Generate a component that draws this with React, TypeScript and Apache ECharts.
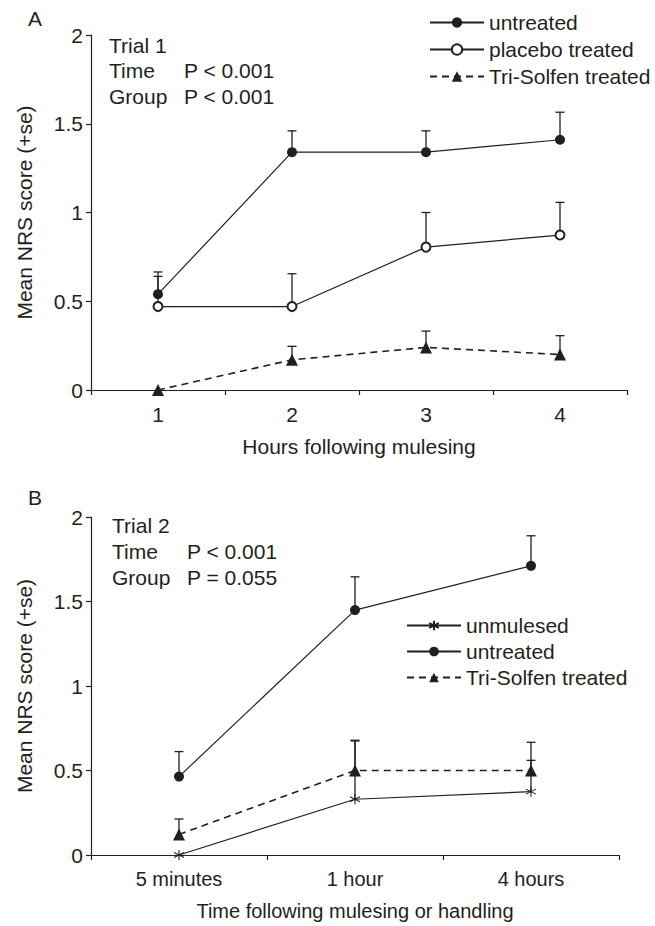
import React, { useEffect, useRef } from "react";
import * as echarts from "echarts";

// Panel A (Trial 1)
const hoursA = ["1", "2", "3", "4"];
const untreatedA = [0.54, 1.34, 1.34, 1.41];
const untreatedA_se = [0.125, 0.12, 0.12, 0.155];
const placeboA = [0.47, 0.47, 0.805, 0.873];
const placeboA_se = [0.17, 0.185, 0.195, 0.184];
const triA = [0, 0.17, 0.24, 0.2];
const triA_se = [0, 0.076, 0.092, 0.106];

// Panel B (Trial 2)
const timesB = ["5 minutes", "1 hour", "4 hours"];
const unmulesedB = [0, 0.33, 0.375];
const unmulesedB_se = [0, 0.345, 0.185];
const untreatedB = [0.464, 1.449, 1.711];
const untreatedB_se = [0.148, 0.197, 0.178];
const triB = [0.122, 0.5, 0.5];
const triB_se = [0.091, 0.179, 0.167];

const yTicks = [0, 0.5, 1, 1.5, 2];

const INK = "#231f20";
const FONT = "'Liberation Sans', Arial, Helvetica, sans-serif";
const ASTERISK = "path://M5 0 L5 10 M0.7 2.5 L9.3 7.5 M0.7 7.5 L9.3 2.5";

const errRender = (params: any, api: any) => {
  const x = api.value(0);
  const m = api.value(1);
  const se = api.value(2);
  if (!se) return { type: "group", children: [] };
  const p0 = api.coord([x, m]);
  const p1 = api.coord([x, m + se]);
  const st = { stroke: INK, lineWidth: 1.3 };
  return {
    type: "group",
    children: [
      { type: "line", shape: { x1: p0[0], y1: p0[1], x2: p1[0], y2: p1[1] }, style: st },
      { type: "line", shape: { x1: p1[0] - 4.5, y1: p1[1], x2: p1[0] + 4.5, y2: p1[1] }, style: st },
    ],
  };
};

const errSeries = (idx: number, mean: number[], se: number[]) => ({
  type: "custom",
  xAxisIndex: idx,
  yAxisIndex: idx,
  z: 1,
  renderItem: errRender,
  encode: { x: 0, y: 1 },
  data: mean.map((v, i) => [i, v, se[i]]),
  silent: true,
});

const lineSeries = (
  name: string,
  idx: number,
  data: number[],
  symbol: string,
  size: number,
  dashed: boolean
) => ({
  type: "line",
  name,
  xAxisIndex: idx,
  yAxisIndex: idx,
  data,
  symbol,
  symbolSize: size,
  z: 3,
  lineStyle: { color: INK, width: dashed ? 1.6 : 1.2, type: dashed ? [7, 5] : "solid" },
  itemStyle: {
    color: INK,
    borderColor: INK,
    borderWidth: symbol === "circle" || symbol === "triangle" ? 0 : 1.1,
  },
});

const xAxisCommon = (gridIndex: number, data: string[], name: string, fs: number) => ({
  gridIndex,
  type: "category",
  data,
  boundaryGap: true,
  axisLine: { lineStyle: { color: INK, width: 1.2 } },
  axisTick: { show: true, length: 5, interval: 0, lineStyle: { color: INK, width: 1.2 } },
  axisLabel: { margin: 14, fontSize: fs, color: INK, fontFamily: FONT, interval: 0 },
  name,
  nameLocation: "middle",
  nameGap: 46,
  nameTextStyle: { fontSize: fs, color: INK, fontFamily: FONT },
});

const yAxisCommon = (gridIndex: number) => ({
  gridIndex,
  type: "value",
  min: yTicks[0],
  max: yTicks[yTicks.length - 1],
  interval: 0.5,
  axisLine: { show: true, lineStyle: { color: INK, width: 1.2 } },
  axisTick: { show: true, length: 5, lineStyle: { color: INK, width: 1.2 } },
  splitLine: { show: false },
  axisLabel: { margin: 8, fontSize: 21, color: INK, fontFamily: FONT },
  name: "Mean NRS score (+se)",
  nameLocation: "middle",
  nameGap: 56,
  nameTextStyle: { fontSize: 21, color: INK, fontFamily: FONT },
});

const txt = (text: string, x: number, y: number) => ({
  type: "text",
  x,
  y,
  style: { text, fill: INK, fontSize: 21, fontFamily: FONT, verticalAlign: "middle", align: "left" },
});

export default function App() {
  const ref = useRef<HTMLDivElement>(null);
  useEffect(() => {
    if (!ref.current) return;
    const chart = echarts.init(ref.current, undefined, { renderer: "svg" });
    chart.setOption({
      animation: false,
      backgroundColor: "#fff",
      textStyle: { fontFamily: FONT },
      grid: [
        { left: 91, top: 35, width: 536, height: 355 },
        { left: 91, top: 517, width: 528, height: 338 },
      ],
      xAxis: [
        xAxisCommon(0, hoursA, "Hours following mulesing", 21),
        xAxisCommon(1, timesB, "Time following mulesing or handling", 20),
      ],
      yAxis: [yAxisCommon(0), yAxisCommon(1)],
      legend: [
        {
          data: ["untreated", "placebo treated", "Tri-Solfen treated"],
          orient: "vertical",
          left: 429,
          top: 12,
          padding: 0,
          itemWidth: 54,
          itemHeight: 13,
          itemGap: 6,
          selectedMode: false,
          textStyle: { fontSize: 21, color: INK, fontFamily: FONT },
        },
        {
          data: ["unmulesed", "untreated", "Tri-Solfen treated"],
          orient: "vertical",
          left: 406,
          top: 615,
          padding: 0,
          itemWidth: 54,
          itemHeight: 12,
          itemGap: 5,
          selectedMode: false,
          textStyle: { fontSize: 21, color: INK, fontFamily: FONT },
        },
      ],
      graphic: [
        txt("A", 28, 18),
        txt("Trial 1", 109, 45),
        txt("Time", 109, 70),
        txt("P < 0.001", 184, 70),
        txt("Group", 109, 96),
        txt("P < 0.001", 184, 96),
        txt("B", 28, 497),
        txt("Trial 2", 112, 525),
        txt("Time", 112, 551),
        txt("P < 0.001", 187, 551),
        txt("Group", 112, 577),
        txt("P = 0.055", 187, 577),
      ],
      series: [
        errSeries(0, untreatedA, untreatedA_se),
        errSeries(0, placeboA, placeboA_se),
        errSeries(0, triA, triA_se),
        lineSeries("untreated", 0, untreatedA, "circle", 10, false),
        lineSeries("placebo treated", 0, placeboA, "emptyCircle", 9, false),
        lineSeries("Tri-Solfen treated", 0, triA, "triangle", 12, true),
        errSeries(1, unmulesedB, unmulesedB_se),
        errSeries(1, untreatedB, untreatedB_se),
        errSeries(1, triB, triB_se),
        lineSeries("unmulesed", 1, unmulesedB, ASTERISK, 10, false),
        lineSeries("untreated", 1, untreatedB, "circle", 10, false),
        lineSeries("Tri-Solfen treated", 1, triB, "triangle", 12, true),
      ],
    });
    return () => chart.dispose();
  }, []);
  return (
    <div
      ref={ref}
      style={{ position: "fixed", left: 0, top: 0, width: 655, height: 926, background: "#fff" }}
    />
  );
}
